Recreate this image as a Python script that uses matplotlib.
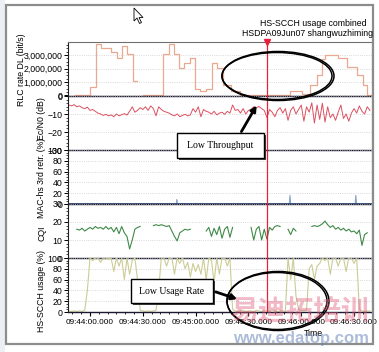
import numpy as np
import matplotlib
matplotlib.use("Agg")
import matplotlib.pyplot as plt
from matplotlib.patches import Ellipse, Rectangle, FancyArrowPatch, Polygon
from matplotlib.ticker import FuncFormatter, MultipleLocator

plt.rcParams['font.family'] = ['Liberation Sans', 'DejaVu Sans']

W, H = 379, 352          # output size in pixels (dpi 100)
nan = np.nan

# ── Data: time in seconds after 09:44:00 ──────────────────────────────────────
# RLC rate DL (Mbit/s), step series; nan = gap
t_rlc = [-8.5, 0.0, 3.4, 6.1, 11.8, 15.2, 18.0, 20.9, 24.3, 26.9,
         30.3, 41.6, 45.1, 47.8, 50.7, 53.6, 56.8, 59.7, 62.5, 65.9,
         69.1, 71.9, 75.7, 80.1, 85.2, 113.6, 120.3, 125.0, 128.8, 131.6,
         133.5, 141.1, 145.9, 151.5, 155.3, 157.2, 160.8]
rlc_dl = [0.05, 0.65, 3.8, 3.55, 3.2, 2.75, 3.65, 3.05, 1.05, nan,
          0.05, 3.1, 3.85, 3.1, 2.05, 2.45, 2.75, 0.5, 0.3, 0.5,
          2.4, 2.05, 0.8, 0.3, 0.03, 0.35, 0.1, 0.8, 1.55, 2.7,
          3.0, 2.75, 2.1, 1.55, 0.8, 0.02, 0.02]

# sampled series, one value every 1.5 s starting at t = -12 s
t0, dt = -12.0, 1.5
ecn0 = [-5, -5.5, -4.8, -6, -5.5,
        -6.5, -7, -6.2, -8, -7.5, -8.5,
        -9.5, -10, -10.8, -10.2, -11, -10.5, -11.5, -10, -11, -10.4, -9.8, -10.6,
        -8.5, -6, -9, -8,
        -6.5, -7.5, -6, -8,
        -5.5, -7, -11, -6, -7.5,
        -8.5, -9, -9.5,
        -10.5, -11, -10, -11.5, -10.8, -10.2, -11, -10.5,
        -7, -9, -6, -11.5, -7.5, -8.5,
        -9, -10, -8.5, -10.5, -9.5,
        -9, -10.2, -8.5, -9.5,
        -5, -8, -7.5, -9.5, -7, -10, -8, -7.5,
        -6, -6.5, -5.8, -7,
        -8, -12, -7.5, -9, -11.5, -8,
        -6.5, -9.5, -7, -13.5, -8, -6, -10, -7.5,
        -5, -14, -6, -9,
        -3.8, -15, -5, -13, -4, -14.5, -6, -12,
        -10, -13.5, -9, -5, -12.5, -10, -14, -9.5,
        -7, -9.5, -5.5, -8.5, -10, -6, -8]

cqi = [nan, nan, nan, 16, 15.5, 16.5, 15, 16, 17, 16,
       17.5, 16.5, 17, 16, 17.5, 16, 17, 14.5, 17, 13.5,
       17.5, 14, 12, 5, 10, 16, 17, 17.5, nan, nan,
       nan, nan, 18, 18.5, 18, 18.5, 18, 17.5, 18, 15,
       12, 9.5, 14, 15, 16, 15.5, 16, nan, nan, nan,
       nan, nan, 15, 17, 12, 16.5, 13, 17.5, 11, 16,
       17.5, 11.5, 17, nan, nan, nan, nan, nan, nan, 17,
       10, 16, 17.5, 10, 16, 10.5, 17, 15.5, 17.5, 18,
       17.5, nan, nan, 16, 13, 16.5, 15, nan, nan, nan,
       nan, nan, 17.5, 18, 17.5, 18, 19, 20.5, 18.5, 17,
       18, 16, 17, 15.5, 16.5, 15, 16, 14.5, 15, 13.5,
       15.5, 7, 13, 14, nan]

hs_scch = [2, 1, 2, 1, 2, 1, 3, 40, 100, 95,
           100, 100, 92, 100, 100, 98, 100, 75, 100, 85,
           100, 60, 100, 70, 95, 100, 60, 3, 2, 1,
           2, 1, 2, 3, 40, 100, 100, 85, 100, 100,
           70, 100, 90, 100, 80, 92, 65, 90, 75, 88,
           70, 100, 60, 100, 95, 55, 100, 70, 100, 100,
           85, 100, 5, 2, 1, 2, 3, 1, 2, 2,
           1, 3, 2, 1, 2, 2, 1, 3, 2, 1,
           2, 2, 1, 100, 60, 100, 30, 5, 3, 2,
           3, 80, 88, 60, 85, 90, 100, 95, 100, 70,
           100, 100, 85, 100, 100, 75, 100, 100, 90, 100,
           5, 2, 1, 2, 2]

# MAC-hs 3rd retransmission (%)
t_mac = [-12.5, 49.0, 49.3, 49.6, 113.2, 113.6, 114.0, 150.6, 151.0, 151.4, 160.5]
mac_retr = [0, 0, 8, 0, 0, 16, 0, 0, 16, 0, 0]

t_cursor = 100.5
tick_secs = [0, 30, 60, 90, 120, 150]
tick_labels = ["09:44:00.000", "09:44:30.000", "09:45:00.000",
               "09:45:30.000", "09:46:00.000", "09:46:30.000"]

t_s = t0 + dt * np.arange(len(ecn0))


def fx(x):
    return x / W


def fy(y):
    return 1 - y / H


# ── Figure / panels ───────────────────────────────────────────────────────────
fig = plt.figure(figsize=(W / 100, H / 100), dpi=100)
fig.patch.set_facecolor("white")

# window frame of the screenshot
fig.add_artist(Rectangle((0, 0), fx(5), 1, transform=fig.transFigure,
                         facecolor="#eceff4", edgecolor="none", zorder=0))
fig.add_artist(Rectangle((fx(6), fy(344)), fx(373) - fx(6), fy(5) - fy(344),
                         transform=fig.transFigure, fill=False,
                         edgecolor="#8c8c8c", lw=1.6, zorder=1))

X0, X1, TOP, PH = 68, 372, 42, 54
axes = []
for i in range(5):
    y0 = TOP + PH * i
    ax = fig.add_axes([fx(X0), fy(y0 + PH), fx(X1) - fx(X0), (PH) / H])
    axes.append(ax)
ax1, ax2, ax3, ax4, ax5 = axes

fs = 6.3
for ax in axes:
    ax.set_xlim(-12.5, 160.2)
    ax.set_facecolor("none")
    ax.grid(True, axis="y", color="#cccccc", ls=":", lw=0.6)
    ax.tick_params(axis="y", labelsize=fs, length=3, pad=1, width=0.7)
    ax.tick_params(axis="y", which="minor", length=1.5, width=0.5)
    ax.tick_params(axis="x", which="both", length=0, labelbottom=False)
    ax.spines["left"].set_color("#202020")
    ax.spines["left"].set_linewidth(0.8)
    ax.spines["right"].set_color("#9a9a9a")
    ax.spines["right"].set_linewidth(0.8)
    ax.spines["top"].set_visible(False)
    ax.spines["bottom"].set_color("#1a1a30")
    ax.spines["bottom"].set_linewidth(1.0)
    ax.axvline(t_cursor, color="#e8203c", lw=0.9, zorder=5)
ax1.spines["top"].set_visible(True)
ax1.spines["top"].set_color("#707070")

# RLC rate
ax1.plot(t_rlc, np.array(rlc_dl) * 1e6, drawstyle="steps-post",
         color="#eaa890", lw=0.9)
ax1.set_ylim(-0.05e6, 3.98e6)
ax1.set_yticks([0, 1e6, 2e6, 3e6])
ax1.yaxis.set_minor_locator(MultipleLocator(0.25e6))
ax1.yaxis.set_major_formatter(FuncFormatter(lambda v, p: f"{v:,.0f}"))
ax1.plot([t_cursor], [3.98e6], marker="v", color="#e8203c", ms=4,
         clip_on=False, zorder=6)

# Ec/N0
ax2.plot(t_s, ecn0, color="#dc5060", lw=0.7)
ax2.set_ylim(-30, 0)
ax2.set_yticks([-30, -20, -10, 0])
ax2.yaxis.set_minor_locator(MultipleLocator(2))

# MAC-hs 3rd retransmissions
ax3.fill_between(t_mac, mac_retr, color="#b4c8e0", lw=0)
ax3.plot(t_mac, mac_retr, color="#8aa6cc", lw=0.8)
ax3.axhline(0, color="#34507a", lw=1.2)
ax3.set_ylim(0, 100)
ax3.set_yticks([0, 20, 40, 60, 80, 100])
ax3.yaxis.set_minor_locator(MultipleLocator(5))

# CQI
ax4.plot(t_s, cqi, color="#3f8a48", lw=0.8)
ax4.set_ylim(0, 30)
ax4.set_yticks([0, 10, 20, 30])
ax4.yaxis.set_minor_locator(MultipleLocator(2))

# HS-SCCH usage
ax5.plot(t_s, hs_scch, color="#cccc96", lw=0.8)
ax5.set_ylim(0, 100)
ax5.set_yticks([0, 20, 40, 60, 80, 100])
ax5.yaxis.set_minor_locator(MultipleLocator(5))
ax5.set_xticks(tick_secs)
ax5.set_xticklabels(tick_labels)
ax5.xaxis.set_minor_locator(MultipleLocator(5))
ax5.tick_params(axis="x", which="major", length=3, labelbottom=True,
                labelsize=5.9, pad=2)
ax5.tick_params(axis="x", which="minor", length=1.5)

# ── Texts ─────────────────────────────────────────────────────────────────────
fig.text(fx(366), fy(23), "HS-SCCH usage combined", ha="right", va="center", fontsize=fs)
fig.text(fx(373), fy(33), "HSDPA09Jun07 shangwuzhiming", ha="right", va="center", fontsize=fs)
ylabels = [("RLC rate DL (bit/s)", 22, 70), ("Ec/N0 (dB)", 42, 119),
           ("MAC-hs 3rd retr. (%)", 42, 178), ("CQI", 42, 233),
           ("HS-SCCH usage (%)", 42, 291)]
for txt, x, y in ylabels:
    fig.text(fx(x), fy(y), txt, rotation=90, ha="center", va="center", fontsize=fs)
fig.text(fx(313), fy(334), "Time", ha="center", va="center", fontsize=fs)

# ── Annotations ───────────────────────────────────────────────────────────────
for dx, dw in [(0, 0), (1, 2)]:
    fig.add_artist(Ellipse((fx(277 + dx), fy(76)), (110 + dw) / W, (47 + dw) / H,
                           transform=fig.transFigure, fill=False, ec="black", lw=1.1, zorder=10))
    fig.add_artist(Ellipse((fx(277 + dx), fy(301)), (100 + dw) / W, (57 + dw) / H,
                           transform=fig.transFigure, fill=False, ec="black", lw=1.1, zorder=10))

boxes = [("Low Throughput", 177, 133, 264, 158), ("Low Usage Rate", 131, 279, 213, 303)]
for txt, x0, y0, x1, y1 in boxes:
    fig.add_artist(Rectangle((fx(x0 + 2), fy(y1 + 2)), fx(x1) - fx(x0), fy(y0) - fy(y1),
                             transform=fig.transFigure, facecolor="#404040",
                             edgecolor="none", zorder=10))
    fig.add_artist(Rectangle((fx(x0), fy(y1)), fx(x1) - fx(x0), fy(y0) - fy(y1),
                             transform=fig.transFigure, facecolor="white",
                             edgecolor="black", lw=1.0, zorder=11))
    fig.text(fx((x0 + x1) / 2), fy((y0 + y1) / 2), txt, ha="center", va="center",
             fontsize=7, family="Liberation Serif", zorder=12)

arrows = [((240, 134), (258, 103)), ((213, 291), (240, 300))]
for (xa, ya), (xb, yb) in arrows:
    fig.add_artist(FancyArrowPatch((fx(xa), fy(ya)), (fx(xb), fy(yb)),
                                   transform=fig.transFigure, arrowstyle="-|>",
                                   mutation_scale=8, lw=2.0, color="black", zorder=12))

# mouse pointer
cur = [(134, 8), (134, 21), (137, 18), (139.5, 23.5), (141.5, 22.5), (139, 17.5), (143, 17.5)]
fig.add_artist(Polygon([(fx(x), fy(y)) for x, y in cur], closed=True,
                       transform=fig.transFigure, facecolor="white",
                       edgecolor="black", lw=0.6, zorder=12))

# watermark
fig.text(fx(300), fy(311), "易迪拓培训", ha="center", va="center", fontsize=20,
         family=["Noto Sans CJK SC", "DejaVu Sans"], weight="bold",
         color="#e05a78", alpha=0.42, zorder=20)
fig.text(fx(301), fy(339), "www.edatop.com", ha="center", va="center", fontsize=12,
         weight="bold", color="#5b7bb4", alpha=0.5, zorder=20)

fig.savefig("out.png", dpi=100)
